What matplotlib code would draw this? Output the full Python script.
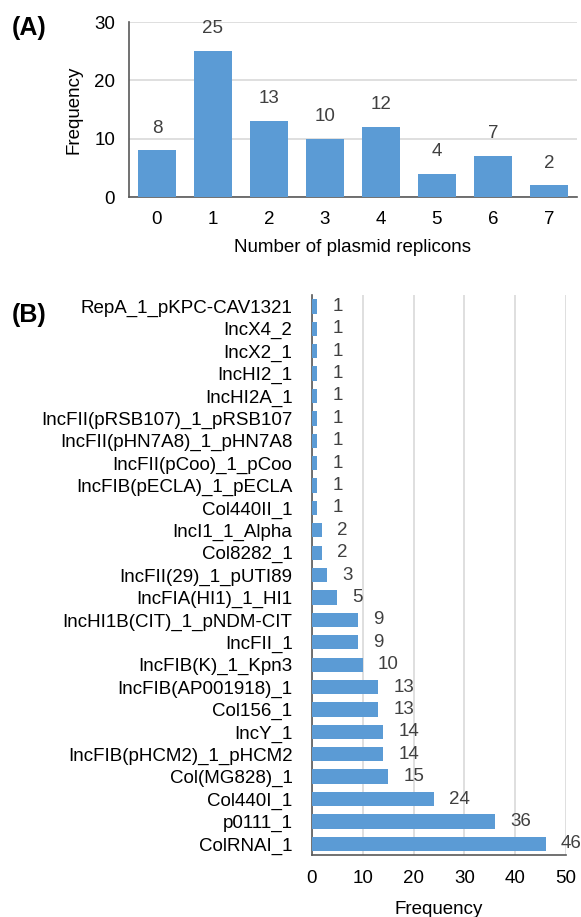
import matplotlib
matplotlib.use("Agg")
import matplotlib.pyplot as plt

# panel A data
replicon_counts = [0, 1, 2, 3, 4, 5, 6, 7]
count_freq = [8, 25, 13, 10, 12, 4, 7, 2]

# panel B data (top to bottom as drawn)
replicon_names = [
    "RepA_1_pKPC-CAV1321", "IncX4_2", "IncX2_1", "IncHI2_1", "IncHI2A_1",
    "IncFII(pRSB107)_1_pRSB107", "IncFII(pHN7A8)_1_pHN7A8", "IncFII(pCoo)_1_pCoo",
    "IncFIB(pECLA)_1_pECLA", "Col440II_1", "IncI1_1_Alpha", "Col8282_1",
    "IncFII(29)_1_pUTI89", "IncFIA(HI1)_1_HI1", "IncHI1B(CIT)_1_pNDM-CIT",
    "IncFII_1", "IncFIB(K)_1_Kpn3", "IncFIB(AP001918)_1", "Col156_1", "IncY_1",
    "IncFIB(pHCM2)_1_pHCM2", "Col(MG828)_1", "Col440I_1", "p0111_1", "ColRNAI_1",
]
replicon_freq = [1, 1, 1, 1, 1, 1, 1, 1, 1, 1, 2, 2, 3, 5, 9, 9, 10, 13, 13, 14,
                 14, 15, 24, 36, 46]

BLUE = "#5B9BD5"
GRID = "#D9D9D9"
AXIS = "#595959"
TXT = "#404040"
FS = 13.5

plt.rcParams["font.family"] = ["Liberation Sans", "DejaVu Sans"]
plt.rcParams["font.size"] = FS

fig = plt.figure(figsize=(5.81, 9.17), dpi=100)

# ---- panel A ----
ax_a = fig.add_axes([0.222, 0.785, 0.771, 0.191])
ax_a.bar(replicon_counts, count_freq, width=0.67, color=BLUE, zorder=3)
for x, v in zip(replicon_counts, count_freq):
    ax_a.annotate(str(v), (x, v), xytext=(0, 10), textcoords="offset points",
                  ha="center", va="bottom", color=TXT, fontsize=FS)
ax_a.set_xlim(-0.5, 7.5)
ax_a.set_ylim(0, 30)
ax_a.set_yticks([0, 10, 20, 30])
ax_a.set_xticks(replicon_counts)
ax_a.yaxis.grid(True, color=GRID, linewidth=1.2, zorder=0)
for s in ["top", "right"]:
    ax_a.spines[s].set_visible(False)
for s in ["left", "bottom"]:
    ax_a.spines[s].set_color(AXIS)
    ax_a.spines[s].set_linewidth(1.2)
ax_a.tick_params(length=0, colors="black", labelsize=FS, pad=10)
ax_a.set_xlabel("Number of plasmid replicons", fontsize=FS, labelpad=8)
ax_a.set_ylabel("Frequency", fontsize=FS, labelpad=8)
fig.text(0.02, 0.970, "(A)", fontsize=18, fontweight="bold", va="center")

# ---- panel B ----
ax_b = fig.add_axes([0.537, 0.0676, 0.437, 0.6105])
ypos = list(range(len(replicon_names)))
ax_b.barh(ypos, replicon_freq, height=0.64, color=BLUE, zorder=3)
for y, v in zip(ypos, replicon_freq):
    ax_b.annotate(str(v), (v, y), xytext=(11, 0), textcoords="offset points",
                  ha="left", va="center", color=TXT, fontsize=FS)
ax_b.set_yticks(ypos)
ax_b.set_yticklabels(replicon_names)
ax_b.set_ylim(len(replicon_names) - 0.5, -0.5)
ax_b.set_xlim(0, 50)
ax_b.set_xticks([0, 10, 20, 30, 40, 50])
ax_b.xaxis.grid(True, color=GRID, linewidth=1.2, zorder=0)
for s in ["top", "right"]:
    ax_b.spines[s].set_visible(False)
for s in ["left", "bottom"]:
    ax_b.spines[s].set_color(AXIS)
    ax_b.spines[s].set_linewidth(1.2)
ax_b.tick_params(length=0, colors="black", labelsize=FS)
ax_b.tick_params(axis="y", pad=14)
ax_b.tick_params(axis="x", pad=11)
ax_b.set_xlabel("Frequency", fontsize=FS, labelpad=10)
fig.text(0.02, 0.657, "(B)", fontsize=18, fontweight="bold", va="center")

fig.savefig("out.png", dpi=100)
